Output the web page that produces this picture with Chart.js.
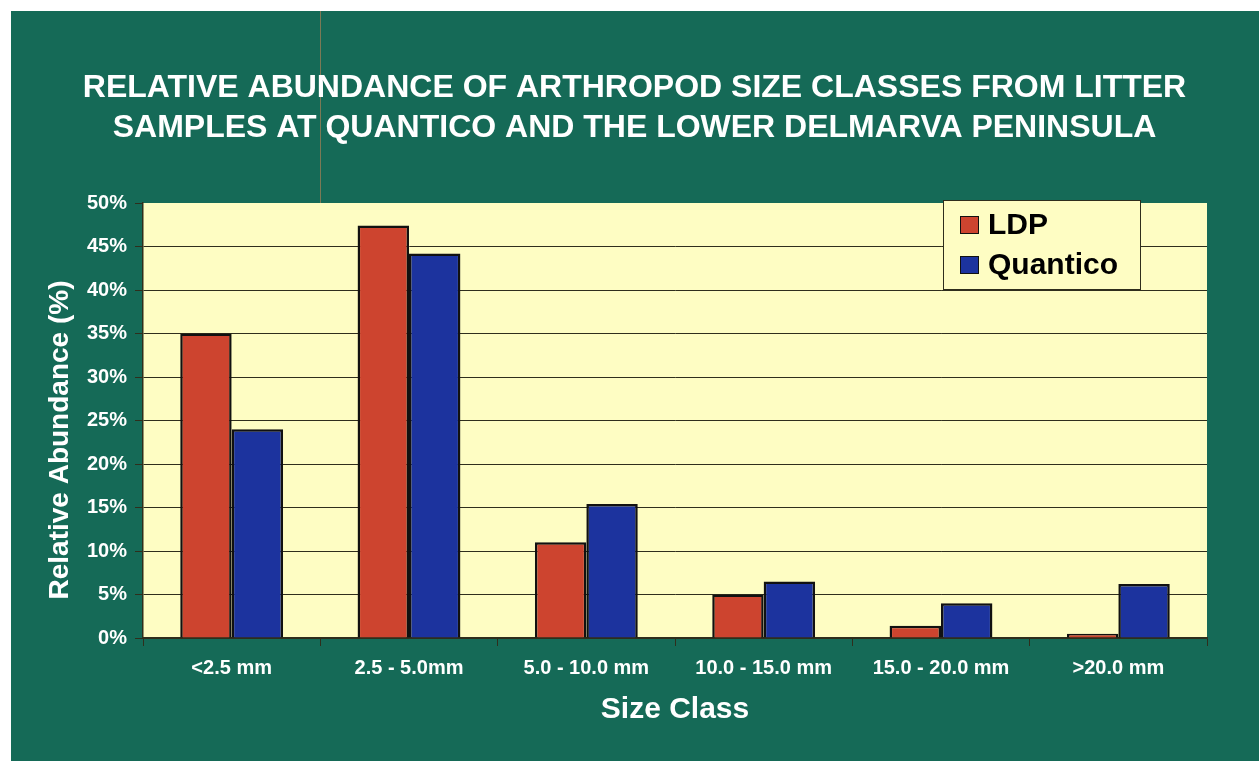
<!DOCTYPE html>
<html>
<head>
<meta charset="utf-8">
<title>Relative Abundance of Arthropod Size Classes</title>
<script src="https://cdn.jsdelivr.net/npm/chart.js@4.4.1/dist/chart.umd.min.js"></script>
<style>
  html, body { margin: 0; padding: 0; background: #ffffff; overflow: hidden; }
  #wrap { position: relative; width: 1259px; height: 761px; }
</style>
</head>
<body>
<div id="wrap"><canvas id="chart" width="1259" height="761"></canvas></div>
<script>
// Data
const sizeClasses = ['<2.5 mm', '2.5 - 5.0mm', '5.0 - 10.0 mm', '10.0 - 15.0 mm', '15.0 - 20.0 mm', '>20.0 mm'];
const ldpValues = [35.0, 47.4, 11.0, 5.0, 1.4, 0.5];
const quanticoValues = [24.0, 44.2, 15.4, 6.5, 4.0, 6.2];
const yTicks = [0, 5, 10, 15, 20, 25, 30, 35, 40, 45, 50];

const chartTitle = ['RELATIVE ABUNDANCE OF ARTHROPOD SIZE CLASSES FROM LITTER',
                    'SAMPLES AT QUANTICO AND THE LOWER DELMARVA PENINSULA'];
const yTitle = 'Relative Abundance (%)';
const xTitle = 'Size Class';

const FONT = "'Liberation Sans', Arial, Helvetica, sans-serif";
const GREEN = '#156a57';
const PLOT_BG = '#fefdc3';
const DARK = '#2f2e1c';
const RED = '#cd442f';
const BLUE = '#1c339e';

/**
 * Slide background: white scan margin, green slide, yellow plot area
 */
const slideBackground = {
  id: 'slideBackground',
  beforeDraw(chart) {
    const { ctx, chartArea } = chart;
    ctx.save();
    ctx.fillStyle = '#ffffff';
    ctx.fillRect(0, 0, chart.width, chart.height);
    ctx.fillStyle = GREEN;
    ctx.fillRect(11, 11, chart.width - 11, chart.height - 11);
    // faint crease left on the scan
    ctx.strokeStyle = 'rgba(150, 125, 85, 0.8)';
    ctx.lineWidth = 1;
    ctx.beginPath();
    ctx.moveTo(320.5, 11);
    ctx.lineTo(320.5, chartArea.top);
    ctx.stroke();
    ctx.fillStyle = PLOT_BG;
    ctx.fillRect(chartArea.left, chartArea.top, chartArea.right - chartArea.left, chartArea.bottom - chartArea.top);
    ctx.restore();
  }
};

/**
 * Rotated y axis title, sitting a little below the middle like the original
 */
const yAxisTitle = {
  id: 'yAxisTitle',
  afterDraw(chart) {
    const { ctx } = chart;
    ctx.save();
    ctx.translate(60, 440);
    ctx.rotate(-Math.PI / 2);
    ctx.font = 'bold 28px ' + FONT;
    ctx.fillStyle = '#ffffff';
    ctx.textAlign = 'center';
    ctx.textBaseline = 'middle';
    ctx.fillText(yTitle, 0, 0);
    ctx.restore();
  }
};

/**
 * Boxed legend in the upper right of the plot area
 */
const boxedLegend = {
  id: 'boxedLegend',
  afterDraw(chart) {
    const { ctx, chartArea } = chart;
    const boxW = 197;
    const boxH = 89;
    const x = chartArea.right - 67 - boxW;
    const y = chartArea.top - 3;
    ctx.save();
    ctx.fillStyle = PLOT_BG;
    ctx.fillRect(x, y, boxW, boxH);
    ctx.strokeStyle = DARK;
    ctx.lineWidth = 1;
    ctx.strokeRect(x + 0.5, y + 0.5, boxW, boxH);

    ctx.font = 'bold 30px ' + FONT;
    ctx.textBaseline = 'middle';
    ctx.textAlign = 'left';
    chart.data.datasets.forEach((ds, i) => {
      const cy = y + 25 + i * 40;
      ctx.fillStyle = ds.backgroundColor;
      ctx.fillRect(x + 17, cy - 9, 19, 18);
      ctx.strokeStyle = '#111';
      ctx.strokeRect(x + 17.5, cy - 8.5, 18, 17);
      ctx.fillStyle = '#000000';
      ctx.fillText(ds.label, x + 45, cy + 1);
    });
    ctx.restore();
  }
};

const ctx = document.getElementById('chart').getContext('2d');

new Chart(ctx, {
  type: 'bar',
  data: {
    labels: sizeClasses,
    datasets: [{
      label: 'LDP',
      data: ldpValues,
      backgroundColor: RED,
      borderColor: '#111111',
      borderWidth: 2.5,
      categoryPercentage: 0.58,
      barPercentage: 1.0
    }, {
      label: 'Quantico',
      data: quanticoValues,
      backgroundColor: BLUE,
      borderColor: '#111111',
      borderWidth: 2.5,
      categoryPercentage: 0.58,
      barPercentage: 1.0
    }]
  },
  options: {
    responsive: false,
    animation: false,
    devicePixelRatio: 1,
    layout: {
      // uneven side padding so the slide title sits a bit right of the plot centre
      padding: { left: 31, right: 21, top: 0, bottom: 0 }
    },
    plugins: {
      legend: { display: false },
      tooltip: { enabled: false },
      title: {
        display: true,
        text: chartTitle,
        color: '#ffffff',
        font: { family: FONT, size: 32, weight: 'bold', lineHeight: 1.25 },
        padding: { top: 68, bottom: 55 }
      }
    },
    scales: {
      x: {
        grid: {
          offset: true,
          drawOnChartArea: false,
          drawTicks: true,
          tickLength: 8,
          tickColor: DARK,
          tickWidth: 1
        },
        border: { display: true, color: DARK, width: 1.5 },
        ticks: {
          color: '#ffffff',
          padding: 10,
          maxRotation: 0,
          font: { family: FONT, size: 20, weight: 'bold' }
        },
        title: {
          display: true,
          text: xTitle,
          color: '#ffffff',
          font: { family: FONT, size: 30, weight: 'bold' },
          padding: { top: 12, bottom: 33 }
        },
        afterFit(scale) { scale.height = 123; }
      },
      y: {
        min: 0,
        max: 50,
        afterBuildTicks(scale) {
          scale.ticks = yTicks.map(v => ({ value: v }));
        },
        grid: {
          color: c => (c.tick && c.tick.value === 50 ? 'rgba(0,0,0,0)' : DARK),
          lineWidth: 1,
          drawTicks: true,
          tickLength: 8,
          tickColor: DARK
        },
        border: { display: true, color: DARK, width: 1.5 },
        ticks: {
          color: '#ffffff',
          padding: 8,
          font: { family: FONT, size: 20, weight: 'bold' },
          callback: v => v + '%'
        },
        afterFit(scale) { scale.width = 143 - 31; }
      },
      // empty spacer on the right, keeps the plot edge at the original position
      spacer: {
        type: 'linear',
        position: 'right',
        grid: { display: false },
        border: { display: false },
        ticks: { display: false },
        afterFit(scale) { scale.width = 31; }
      }
    }
  },
  plugins: [slideBackground, yAxisTitle, boxedLegend]
});
</script>
</body>
</html>
